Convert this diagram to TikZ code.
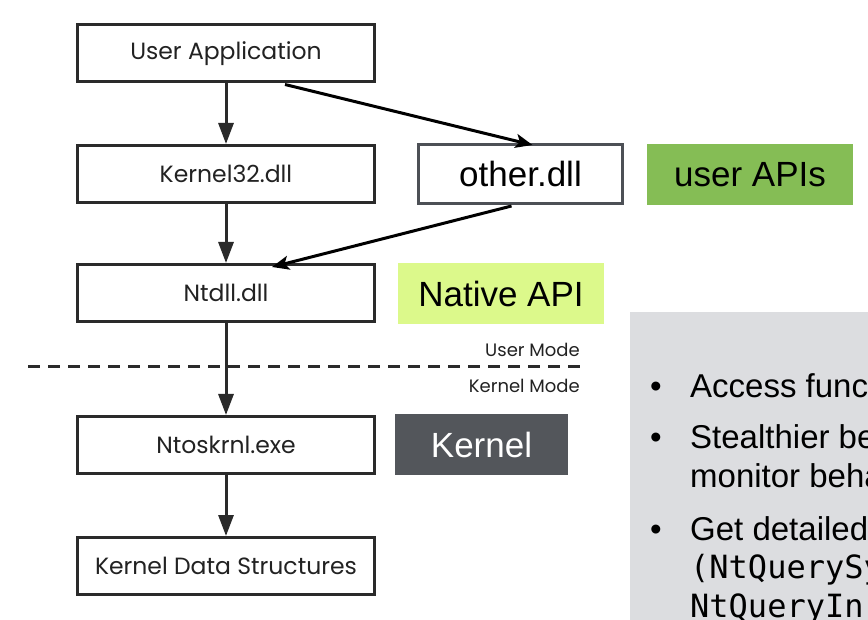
\documentclass[tikz,border=0pt]{standalone}
\usepackage{fontspec}
\setmainfont{Liberation Sans}
\newfontfamily\futura{Poppins}
\setmonofont{DejaVu Sans Mono}
\usetikzlibrary{arrows.meta}
\definecolor{boxline}{HTML}{2A2A2A}
\definecolor{boxtext}{HTML}{222222}
\definecolor{otherline}{HTML}{4D5056}
\definecolor{userapi}{HTML}{85BD55}
\definecolor{nativeapi}{HTML}{DCF98B}
\definecolor{kernelbg}{HTML}{53565B}
\definecolor{panel}{HTML}{DCDDE0}
\begin{document}
\begin{tikzpicture}[x=1pt,y=-1pt,
  flowbox/.style={draw=boxline, line width=3pt, fill=white, minimum width=297pt, minimum height=57pt, inner sep=0pt, font=\futura\fontsize{23.5}{28}\selectfont, text=boxtext},
  tagbox/.style={minimum width=206pt, minimum height=61pt, inner sep=0pt, font=\fontsize{35}{40}\selectfont},
  modelabel/.style={inner sep=0pt, font=\futura\fontsize{18}{21}\selectfont, text=boxtext},
  downarrow/.style={draw=boxline, line width=3pt, -{Triangle[width=15pt,length=21pt]}},
  slantarrow/.style={draw=black, line width=3pt, -{Stealth[width=14pt,length=17pt,inset=4pt]}},
  bulletmark/.style={inner sep=0pt, anchor=base west, font=\fontsize{33}{38}\selectfont},
  bullettext/.style={inner sep=0pt, anchor=base west, font=\fontsize{33}{38}\selectfont},
  monotext/.style={inner sep=0pt, anchor=base west, font=\ttfamily\fontsize{32}{38}\selectfont}]
\useasboundingbox (0,0) rectangle (868,620);
\fill[white] (0,0) rectangle (868,620);
% grey panel
\fill[panel] (630,312) rectangle (868,620);
% dashed boundary
\coordinate (dl) at (28,367);
\coordinate (dr) at (581,367);
\draw[boxline, line width=3pt, dash pattern=on 12pt off 8pt] (dl) -- (dr);
\node[modelabel, anchor=base east] (um) at (580,357) {User Mode};
\node[modelabel, anchor=base east] (km) at (580,392) {Kernel Mode};
% flow boxes
\node[flowbox] (ua) at (226,53.5) {User Application};
\node[flowbox] (k32) at (226,174) {Kernel32.dll};
\node[flowbox] (nt) at (226,293) {Ntdll.dll};
\node[flowbox] (nto) at (226,445) {Ntoskrnl.exe};
\node[flowbox] (kds) at (226,566) {Kernel Data Structures};
% other.dll and tags
\node[draw=otherline, line width=3pt, fill=white, minimum width=204pt, minimum height=59pt, inner sep=0pt, font=\fontsize{35}{40}\selectfont] (oth) at (520.5,174) {other.dll};
\node[tagbox, fill=userapi] (uapi) at (750,174.5) {user APIs};
\node[tagbox, fill=nativeapi] (napi) at (501,294) {Native API};
\node[tagbox, fill=kernelbg, text=white, minimum width=173pt] (kern) at (481.5,444.5) {Kernel};
% vertical arrows
\draw[downarrow] (ua.south) -- (k32.north);
\draw[downarrow] (k32.south) -- (nt.north);
\draw[downarrow] (nt.south) -- (nto.north);
\draw[downarrow] (nto.south) -- (kds.north);
% slanted arrows
\draw[slantarrow] ([xshift=59pt,yshift=-1pt]ua.south) -- ([xshift=12pt,yshift=-2pt]oth.north);
\draw[slantarrow] ([xshift=-9pt,yshift=-1pt]oth.south) -- ([xshift=46pt,yshift=-4pt]nt.north);
% bullets
\node[bulletmark] (b1) at (650,398) {•};
\node[bullettext] (t1) at (690,398) {Access func};
\node[bulletmark] (b2) at (650,448) {•};
\node[bullettext] (t2) at (690,448) {Stealthier be};
\node[bullettext] (t3) at (690,487) {monitor beha};
\node[bulletmark] (b3) at (650,540) {•};
\node[bullettext] (t4) at (690,540) {Get detailed};
\node[monotext] (t5) at (690,578) {(NtQuerySy};
\node[monotext] (t6) at (690,617) {NtQueryIn};
\end{tikzpicture}
\end{document}
